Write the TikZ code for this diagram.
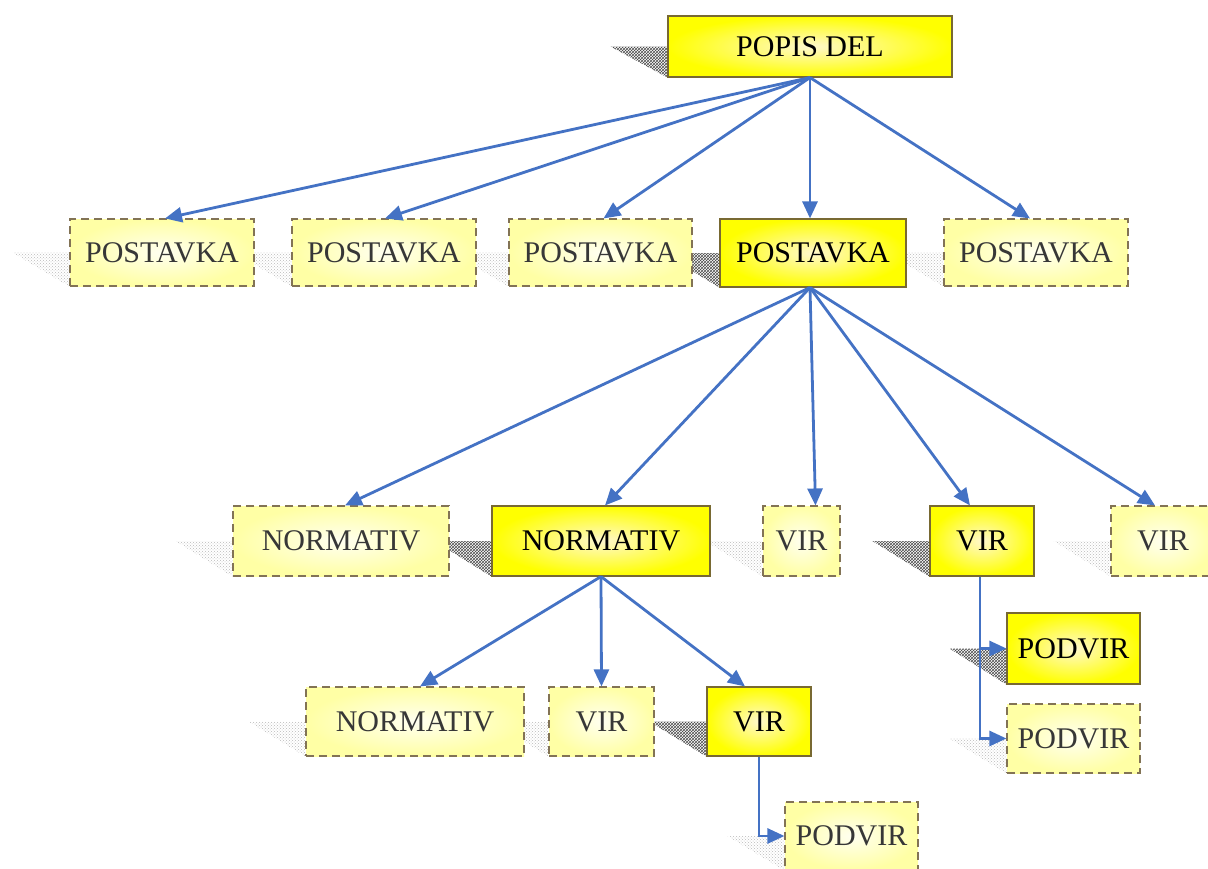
\documentclass[tikz,border=0pt]{standalone}
\usepackage{fontspec}
\setmainfont{Liberation Serif}
\usetikzlibrary{arrows.meta,patterns,backgrounds,calc}
\definecolor{linkblue}{RGB}{68,114,196}
\definecolor{solidline}{RGB}{120,105,50}
\definecolor{dashline}{RGB}{130,115,85}
\definecolor{hotyellow}{RGB}{255,255,0}
\definecolor{hotcore}{RGB}{255,248,205}
\definecolor{paleyellow}{RGB}{255,255,165}
\definecolor{palecore}{RGB}{255,255,240}
\definecolor{paletext}{RGB}{55,55,55}
\tikzset{
  box/.style={rectangle, inner sep=0pt, font=\fontsize{30}{36}\selectfont},
  solidbox/.style={box, draw=solidline, line width=1.1pt,
    inner color=hotcore, outer color=hotyellow, text=black},
  dashbox/.style={box, draw=dashline, line width=1.1pt, dash pattern=on 8pt off 5pt,
    inner color=palecore, outer color=paleyellow, text=paletext},
  link/.style={draw=linkblue, line width=2.8pt,
    -{Triangle[length=17pt,width=15pt]}},
  darkshade/.style={pattern=crosshatch, pattern color=black!70},
  lightshade/.style={pattern=crosshatch dots, pattern color=gray!55},
}
% slanted drop shadow to the left of a box
\newcommand{\boxshade}[2]{%
  \path[#2] ($(#1.west)+(-57pt,0)$) -- (#1.west) -- (#1.south west) -- cycle;}
\begin{document}
\begin{tikzpicture}[x=1pt,y=-1pt]
\useasboundingbox (0,0) rectangle (1208,868);

% top level
\node[solidbox, minimum width=284pt, minimum height=61pt] (popis) at (810,46.5) {POPIS DEL};

% items
\node[dashbox,  minimum width=184pt, minimum height=67pt] (p1) at (162,252.5) {POSTAVKA};
\node[dashbox,  minimum width=184pt, minimum height=67pt] (p2) at (384,252.5) {POSTAVKA};
\node[dashbox,  minimum width=183pt, minimum height=67pt] (p3) at (600.5,252.5) {POSTAVKA};
\node[solidbox, minimum width=186pt, minimum height=68pt] (p4) at (813,253) {POSTAVKA};
\node[dashbox,  minimum width=184pt, minimum height=67pt] (p5) at (1036,252.5) {POSTAVKA};

% norms and sources
\node[dashbox,  minimum width=216pt, minimum height=70pt] (n1) at (341,541) {NORMATIV};
\node[solidbox, minimum width=218pt, minimum height=70pt] (n2) at (601,541) {NORMATIV};
\node[dashbox,  minimum width=77pt,  minimum height=70pt] (v1) at (801.5,541) {VIR};
\node[solidbox, minimum width=104pt, minimum height=70pt] (v2) at (982,541) {VIR};
\node[dashbox,  minimum width=104pt, minimum height=70pt] (v3) at (1163,541) {VIR};

% third level
\node[dashbox,  minimum width=218pt, minimum height=69pt] (n3) at (415,721.5) {NORMATIV};
\node[dashbox,  minimum width=105pt, minimum height=69pt] (v4) at (601.5,721.5) {VIR};
\node[solidbox, minimum width=104pt, minimum height=69pt] (v5) at (759,721.5) {VIR};

% sub-sources
\node[solidbox, minimum width=133pt, minimum height=71pt] (pv1) at (1073.5,648.5) {PODVIR};
\node[dashbox,  minimum width=133pt, minimum height=69pt] (pv2) at (1073.5,738.5) {PODVIR};
\node[dashbox,  minimum width=133pt, minimum height=68pt] (pv3) at (851.5,836) {PODVIR};

% shadows behind the boxes
\begin{scope}[on background layer]
  \boxshade{popis}{darkshade}
  \boxshade{p1}{lightshade}
  \boxshade{p2}{lightshade}
  \boxshade{p3}{lightshade}
  \boxshade{p4}{darkshade}
  \boxshade{p5}{lightshade}
  \boxshade{n1}{lightshade}
  \boxshade{n2}{darkshade}
  \boxshade{v1}{lightshade}
  \boxshade{v2}{darkshade}
  \boxshade{v3}{lightshade}
  \boxshade{n3}{lightshade}
  \boxshade{v4}{lightshade}
  \boxshade{v5}{darkshade}
  \boxshade{pv1}{darkshade}
  \boxshade{pv2}{lightshade}
  \boxshade{pv3}{lightshade}
\end{scope}

% connectors
\draw[link] (popis.south) -- ([xshift=3pt]p1.north);
\draw[link] (popis.south) -- ([xshift=1pt]p2.north);
\draw[link] (popis.south) -- ([xshift=3pt]p3.north);
\draw[link] (popis.south) -- (popis.south |- p4.north);
\draw[link] (popis.south) -- ([xshift=-6pt]p5.north);

\draw[link] ([xshift=-3pt]p4.south) -- ([xshift=4pt]n1.north);
\draw[link] ([xshift=-3pt]p4.south) -- ([xshift=4pt]n2.north);
\draw[link] ([xshift=-3pt]p4.south) -- ([xshift=14pt]v1.north);
\draw[link] ([xshift=-3pt]p4.south) -- ([xshift=-12pt]v2.north);
\draw[link] ([xshift=-3pt]p4.south) -- ([xshift=-8pt]v3.north);

\draw[link] (n2.south) -- ([xshift=5pt]n3.north);
\draw[link] (n2.south) -- (v4.north);
\draw[link] (n2.south) -- ([xshift=-14pt]v5.north);

\draw[link] (v5.south) |- (pv3.west);
\draw[link] ([xshift=-2pt]v2.south) |- (pv1.west);
\draw[link] ([xshift=-2pt]v2.south) |- (pv2.west);
\end{tikzpicture}
\end{document}
